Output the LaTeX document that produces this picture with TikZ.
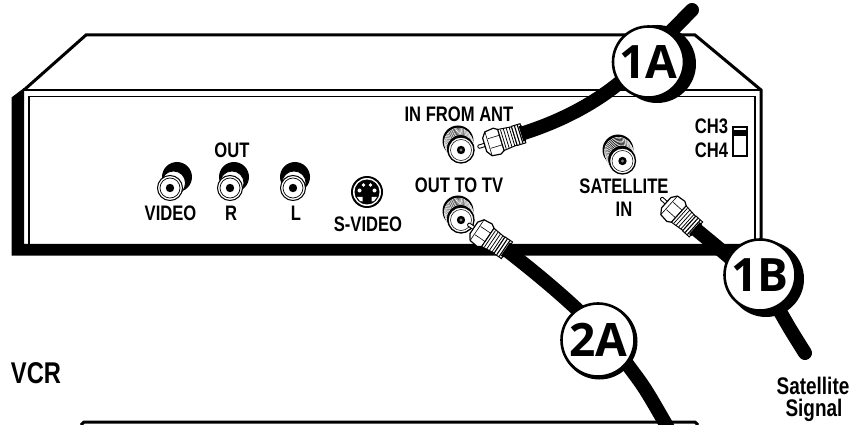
\documentclass[tikz,border=0pt]{standalone}
\usepackage{fontspec}
\usetikzlibrary{calc}
\newfontfamily\labfont[FakeStretch=0.79]{Liberation Sans Bold}
\newfontfamily\bigfont{Open Sans Bold}
\tikzset{
  lab/.style={font=\labfont\fontsize{21}{21}\selectfont,inner sep=0pt,anchor=base},
  smalllab/.style={font=\labfont\fontsize{24}{24}\selectfont,inner sep=0pt,anchor=base},
  vcrlab/.style={font=\labfont\fontsize{30}{30}\selectfont,inner sep=0pt,anchor=base},
  badge/.style={circle,draw=black,line width=2.6pt,fill=white,minimum size=71pt,inner sep=0pt,
    font=\bigfont\fontsize{46}{46}\selectfont},
  cable/.style={line width=14pt,black},
  pics/rcajack/.style={code={
    \fill[black] (#1,-11) circle (15);
    \draw[fill=white,line width=.8pt] (#1*.5,-5) circle (12);
    \draw[fill=white,line width=1pt] (0,0) circle (12.5);
    \draw[line width=.7pt] (0,0) circle (10);
    \fill[black] (0,0) circle (4.2);
  }},
  pics/fjack/.style args={#1/#2}{code={
    \fill[black] (#1,#2) circle (15.5);
    \foreach \t in {.12,.24,...,.9}{
      \draw[white,line width=.55pt,fill=black] (#1*1-#1*\t,#2*1-#2*\t) circle (14);
    }
    \draw[fill=white,line width=1.3pt] (0,0) circle (13);
    \draw[line width=.5pt] (0,0) circle (10.5);
    \fill[black] (0,0) circle (4.2);
    \fill[gray] (0,0) circle (1.6);
  }},
  pics/plug/.style={code={
    \draw[fill=white,line width=.9pt,rounded corners=1pt] (0,-1.7) rectangle (9,1.7);
    \draw[fill=white,line width=1.2pt,line join=round] (7,-7) -- (11,-12.5) -- (20,-13.5) -- (24,-11)
      -- (24,11) -- (20,13.5) -- (11,12.5) -- (7,7) -- cycle;
    \draw[line width=.6pt] (11,-12.5) -- (11,12.5) (12,-5) -- (24,-5) (12,5) -- (24,5);
    \draw[fill=white,line width=1pt] (24,-11) -- (38,-9.5) -- (38,9.5) -- (24,11) -- cycle;
    \foreach \u in {26.5,29.5,...,36}{\draw[line width=.75pt] (\u,-10) -- (\u,10);}
    \draw[fill=white,line width=1pt] (38,-10) rectangle (47,10);
    \foreach \u in {41,44}{\draw[line width=1.1pt] (\u,-9.5) -- (\u,9.5);}
    \fill[black] (45,-8) rectangle (48,8);
  }}
}
\begin{document}
\begin{tikzpicture}[x=1pt,y=-1pt]
\useasboundingbox (0,0) rectangle (855,425);
\clip (0,0) rectangle (855,425);
\fill[white] (0,0) rectangle (855,425);

% VCR body
\coordinate (tl) at (86,35); \coordinate (tr) at (695,35);
\coordinate (pr) at (761,90); \coordinate (pl) at (24,90);
\draw[line width=3pt,line join=miter] (pl) -- (tl) -- (tr) -- (pr) -- (761,250);
\draw[line width=2pt] (pl) -- (pr);
\fill[black] (11.5,97.5) -- (24,88) -- (24,244) -- (761,244) -- (761,255.5) -- (11.5,255.5) -- cycle;
\draw[line width=1.5pt] (29,244) -- (29,96.5) -- (755,96.5) -- (755,244);
% TV top edge
\draw[line width=3pt,line join=round] (81,425) -- (84,422) -- (695,422) -- (698,425);

% Jacks
\pic at (170,188) {rcajack=7};
\pic at (230,188) {rcajack=4};
\pic at (293,188) {rcajack=2};
\pic at (461,150) {fjack=-3/-9};
\pic at (461,220) {fjack=-3/-9};
\pic at (622.5,161) {fjack=-4.5/-11};

% S-video
\fill[black] (367,192) circle (16);
\fill[white] (367,192) circle (14);
\fill[black] (367,192) circle (12.5);
\fill[white] (359.5,190.5) circle (2) (374.5,190.5) circle (2) (363.5,185) circle (1.8) (370.5,185) circle (1.8);
\fill[white] (357,197) -- (362.5,197) -- (362.5,201.5) -- (360,201) -- cycle
  (377,197) -- (371.5,197) -- (371.5,201.5) -- (374,201) -- cycle;

% Switch
\draw[line width=1.1pt,fill=white] (733,127) rectangle (747,156);
\fill[black] (733,130) rectangle (747,136);

% Labels
\node[lab] (lvideo) at (170.5,221) {VIDEO};
\node[lab] (lout) at (232,158) {OUT};
\node[lab] (lr) at (231,221) {R};
\node[lab] (ll) at (296,221) {L};
\node[lab] (lsv) at (368,231.5) {S-VIDEO};
\node[lab] (lant) at (459,122) {IN FROM ANT};
\node[lab] (ltv) at (459,192.5) {OUT TO TV};
\node[lab] (lsat) at (624,194) {SATELLITE};
\node[lab] (lin) at (624,217) {IN};
\node[lab] (lch3) at (711.5,134) {CH3};
\node[lab] (lch4) at (711.5,158) {CH4};
\node[vcrlab] (lvcr) at (36,383) {VCR};
\node[smalllab] (lsig1) at (813,394) {Satellite};
\node[smalllab] (lsig2) at (814,416) {Signal};

% Plug positions
\coordinate (p1) at (478,147); \coordinate (p1e) at ($(p1)+(-17:46)$);
\coordinate (p2) at (661,198); \coordinate (p2e) at ($(p2)+(42:46)$);
\coordinate (p3) at (468,224); \coordinate (p3e) at ($(p3)+(34:46)$);
\coordinate (end1) at (692,10);
\coordinate (end2) at (805,353);
\coordinate (end3) at (668,428);

% Cables
\draw[cable,line cap=round] (p1e) .. controls (565,120) and (600,100) .. (625,78) -- (end1);
\draw[cable,line cap=round] (p2e) .. controls (728,256) and (765,285) .. (782,315) .. controls (790,329) .. (end2);
\draw[cable] (p3e) .. controls (545,280) and (600,325) .. (630,368) .. controls (645,388) .. (end3);

% Plugs
\pic[rotate=17] at (p1) {plug};
\pic[rotate=-42] at (p2) {plug};
\pic[rotate=-34] at (p3) {plug};

% Badges
\fill[black] (657,64) circle (39);
\fill[black] (766,279) circle (38);
\fill[black] (599.5,341.5) circle (38);
\node[badge] (b1a) at (648.5,62) {1A};
\node[badge] (b1b) at (760,275) {1B};
\node[badge,minimum size=73pt] (b2a) at (598,340) {2A};
\end{tikzpicture}
\end{document}
